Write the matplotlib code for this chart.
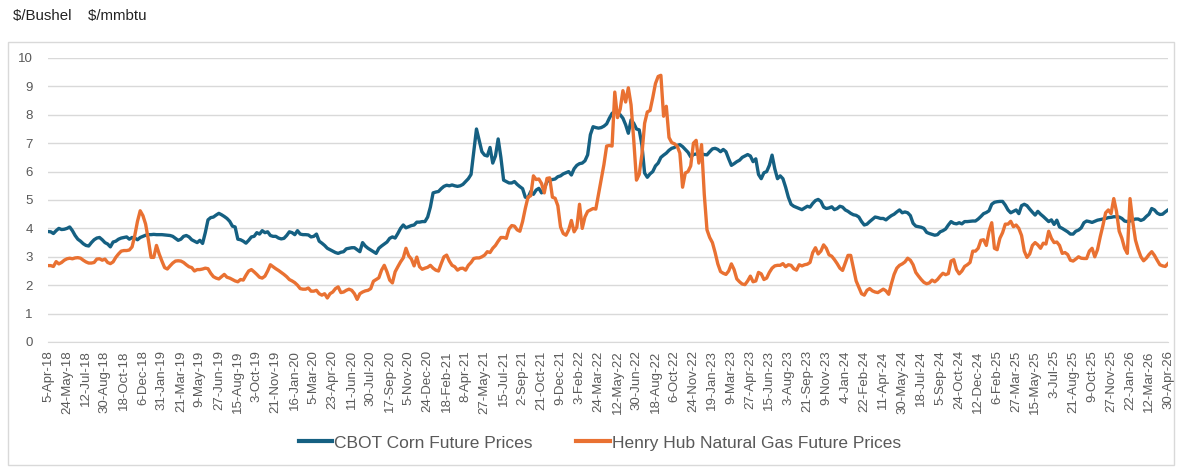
import numpy as np
import matplotlib.pyplot as plt
from matplotlib.patches import Rectangle
from matplotlib.lines import Line2D

# weekly category labels shown on the axis (every 7th week)
tick_labels = [
    "5-Apr-18", "24-May-18", "12-Jul-18", "30-Aug-18", "18-Oct-18", "6-Dec-18",
    "31-Jan-19", "21-Mar-19", "9-May-19", "27-Jun-19", "15-Aug-19", "3-Oct-19",
    "21-Nov-19", "16-Jan-20", "5-Mar-20", "23-Apr-20", "11-Jun-20", "30-Jul-20",
    "17-Sep-20", "5-Nov-20", "24-Dec-20", "18-Feb-21", "8-Apr-21", "27-May-21",
    "15-Jul-21", "2-Sep-21", "21-Oct-21", "9-Dec-21", "3-Feb-22", "24-Mar-22",
    "12-May-22", "30-Jun-22", "18-Aug-22", "6-Oct-22", "24-Nov-22", "19-Jan-23",
    "9-Mar-23", "27-Apr-23", "15-Jun-23", "3-Aug-23", "21-Sep-23", "9-Nov-23",
    "4-Jan-24", "22-Feb-24", "11-Apr-24", "30-May-24", "18-Jul-24", "5-Sep-24",
    "24-Oct-24", "12-Dec-24", "6-Feb-25", "27-Mar-25", "15-May-25", "3-Jul-25",
    "21-Aug-25", "9-Oct-25", "27-Nov-25", "22-Jan-26", "12-Mar-26", "30-Apr-26",
]

# CBOT corn, $/bushel (weekly)
corn = [
    3.89, 3.88, 3.82, 3.92, 4.00, 3.96, 3.97,
    4.00, 4.05, 3.92, 3.75, 3.62, 3.55, 3.46,
    3.40, 3.38, 3.50, 3.60, 3.66, 3.68, 3.60,
    3.50, 3.45, 3.35, 3.52, 3.55, 3.62, 3.66,
    3.68, 3.70, 3.62, 3.68, 3.66, 3.60, 3.68,
    3.72, 3.76, 3.78, 3.78, 3.79, 3.78, 3.78,
    3.78, 3.77, 3.76, 3.75, 3.72, 3.65, 3.58,
    3.62, 3.72, 3.75, 3.70, 3.60, 3.55, 3.50,
    3.58, 3.47, 3.85, 4.30, 4.38, 4.40, 4.47,
    4.53, 4.48, 4.42, 4.35, 4.25, 4.08, 4.05,
    3.62, 3.60, 3.55, 3.48, 3.58, 3.70, 3.72,
    3.85, 3.80, 3.92, 3.85, 3.88, 3.75, 3.72,
    3.72, 3.66, 3.63, 3.65, 3.75, 3.88, 3.85,
    3.78, 3.92, 3.80, 3.78, 3.78, 3.77, 3.70,
    3.72, 3.80, 3.55, 3.48, 3.40, 3.30, 3.25,
    3.20, 3.15, 3.12, 3.16, 3.18, 3.28, 3.30,
    3.32, 3.32, 3.25, 3.18, 3.50, 3.38, 3.30,
    3.24, 3.18, 3.12, 3.30, 3.38, 3.45, 3.52,
    3.65, 3.70, 3.66, 3.82, 4.00, 4.12, 4.02,
    4.06, 4.10, 4.12, 4.22, 4.22, 4.24, 4.24,
    4.40, 4.75, 5.25, 5.28, 5.30, 5.40, 5.48,
    5.52, 5.50, 5.53, 5.50, 5.48, 5.50, 5.55,
    5.65, 5.75, 5.90, 6.70, 7.50, 7.10, 6.70,
    6.58, 6.55, 6.85, 6.30, 6.55, 7.15, 6.50,
    5.70, 5.65, 5.60, 5.60, 5.65, 5.55, 5.47,
    5.40, 5.10, 5.08, 5.30, 5.20, 5.35, 5.41,
    5.25, 5.40, 5.65, 5.70, 5.72, 5.74, 5.82,
    5.85, 5.92, 5.96, 6.00, 5.88, 6.10, 6.22,
    6.28, 6.30, 6.38, 6.59, 7.30, 7.58, 7.55,
    7.53, 7.55, 7.60, 7.68, 7.88, 8.05, 8.12,
    8.10, 8.00, 7.88, 7.65, 7.35, 7.82, 7.70,
    7.50, 7.47, 6.94, 5.95, 5.80, 5.92, 6.00,
    6.20, 6.30, 6.50, 6.58, 6.65, 6.75, 6.82,
    6.85, 6.92, 6.95, 6.88, 6.78, 6.68, 6.52,
    6.60, 6.62, 6.60, 6.62, 6.60, 6.59, 6.70,
    6.80, 6.82, 6.78, 6.70, 6.78, 6.70, 6.45,
    6.22, 6.28, 6.35, 6.40, 6.50, 6.55, 6.60,
    6.55, 6.35, 6.45, 5.90, 5.75, 5.96, 6.00,
    6.22, 6.58, 6.10, 5.75, 5.85, 5.75, 5.45,
    5.10, 4.85, 4.78, 4.74, 4.70, 4.66, 4.72,
    4.78, 4.75, 4.88, 4.98, 5.02, 4.95, 4.75,
    4.70, 4.72, 4.76, 4.66, 4.70, 4.78, 4.75,
    4.65, 4.60, 4.53, 4.48, 4.46, 4.40, 4.24,
    4.12, 4.15, 4.24, 4.32, 4.40, 4.38, 4.35,
    4.35, 4.30, 4.38, 4.45, 4.50, 4.58, 4.65,
    4.55, 4.58, 4.55, 4.45, 4.18, 4.08, 4.06,
    4.04, 4.00, 3.86, 3.82, 3.79, 3.76, 3.78,
    3.88, 3.92, 3.98, 4.12, 4.24, 4.18, 4.16,
    4.20, 4.16, 4.24, 4.24, 4.25, 4.26, 4.26,
    4.33, 4.42, 4.52, 4.56, 4.62, 4.85, 4.92,
    4.94, 4.95, 4.95, 4.82, 4.65, 4.55, 4.60,
    4.65, 4.52, 4.80, 4.85, 4.80, 4.68, 4.57,
    4.47, 4.60, 4.50, 4.42, 4.33, 4.24, 4.30,
    4.14, 4.29, 4.05, 4.00, 3.94, 3.88, 3.80,
    3.80, 3.90, 3.94, 4.02, 4.20, 4.26, 4.24,
    4.21, 4.25, 4.29, 4.31, 4.33, 4.35, 4.38,
    4.39, 4.41, 4.41, 4.40, 4.35, 4.26, 4.24,
    4.26, 4.30, 4.33, 4.33, 4.28, 4.32, 4.42,
    4.50, 4.70, 4.65, 4.54, 4.49, 4.50, 4.58,
    4.65,
]

# Henry Hub natural gas, $/mmbtu (weekly)
gas = [
    2.69, 2.69, 2.66, 2.83, 2.75, 2.80, 2.88,
    2.93, 2.95, 2.93, 2.96, 2.97, 2.95, 2.88,
    2.82, 2.78, 2.78, 2.80, 2.92, 2.93, 2.88,
    2.92, 2.80, 2.76, 2.82, 2.98, 3.10, 3.20,
    3.22, 3.22, 3.24, 3.35, 3.75, 4.25, 4.62,
    4.45, 4.15, 3.60, 2.98, 2.98, 3.40, 3.10,
    2.85, 2.62, 2.57, 2.68, 2.78, 2.85, 2.86,
    2.85, 2.80, 2.72, 2.65, 2.62, 2.50, 2.55,
    2.55, 2.57, 2.60, 2.58, 2.42, 2.30, 2.25,
    2.22, 2.30, 2.38, 2.28, 2.25, 2.20, 2.15,
    2.12, 2.20, 2.18, 2.35, 2.50, 2.55, 2.47,
    2.38, 2.28, 2.25, 2.32, 2.50, 2.72, 2.65,
    2.58, 2.52, 2.45, 2.38, 2.30, 2.20, 2.15,
    2.09, 2.00, 1.88, 1.86, 1.86, 1.90, 1.79,
    1.79, 1.82, 1.70, 1.65, 1.70, 1.55, 1.70,
    1.76, 1.88, 1.94, 1.74, 1.76, 1.82, 1.86,
    1.82, 1.70, 1.50, 1.70, 1.76, 1.80, 1.82,
    1.88, 2.14, 2.20, 2.26, 2.53, 2.70, 2.47,
    2.18, 2.08, 2.47, 2.65, 2.82, 2.96, 3.30,
    3.04, 2.92, 2.68, 2.99, 2.65, 2.56, 2.60,
    2.63, 2.70, 2.60, 2.53, 2.50, 2.76, 3.00,
    3.06, 2.85, 2.70, 2.65, 2.53, 2.59, 2.60,
    2.53, 2.70, 2.80, 2.94, 2.96, 2.96, 3.00,
    3.06, 3.18, 3.15, 3.30, 3.40, 3.55, 3.68,
    3.68, 3.65, 3.98, 4.10, 4.08, 3.95, 3.90,
    4.24, 4.70, 5.10, 5.15, 5.85, 5.72, 5.74,
    5.58, 5.25, 5.76, 5.78, 5.10, 5.06, 4.80,
    4.05, 3.82, 3.76, 3.95, 4.28, 3.88, 4.04,
    4.85, 4.00, 4.40, 4.60, 4.65, 4.70, 4.68,
    5.20, 5.70, 6.25, 6.90, 6.92, 6.90, 8.80,
    7.90, 8.20, 8.85, 8.45, 8.95, 8.35, 7.10,
    5.70, 5.90, 6.60, 7.70, 8.10, 8.15, 8.60,
    9.10, 9.35, 9.39, 7.95, 8.30, 7.20, 7.02,
    6.98, 6.90, 6.65, 5.45, 5.95, 6.00, 6.20,
    7.00, 7.10, 6.30, 6.95, 5.20, 3.95, 3.68,
    3.50, 3.15, 2.75, 2.48, 2.42, 2.38, 2.50,
    2.75, 2.55, 2.22, 2.12, 2.04, 2.02, 2.15,
    2.32, 2.12, 2.15, 2.45, 2.40, 2.20, 2.25,
    2.45, 2.60, 2.68, 2.70, 2.70, 2.76, 2.65,
    2.72, 2.70, 2.58, 2.53, 2.72, 2.68, 2.72,
    2.74, 2.80, 3.15, 3.32, 3.10, 3.20, 3.42,
    3.30, 3.07, 3.02, 2.90, 2.76, 2.60, 2.52,
    2.78, 3.05, 3.05, 2.60, 2.15, 1.92, 1.70,
    1.65, 1.82, 1.88, 1.80, 1.76, 1.74, 1.80,
    1.86, 1.80, 1.68, 2.05, 2.38, 2.60, 2.70,
    2.75, 2.82, 2.95, 2.88, 2.72, 2.45, 2.32,
    2.20, 2.10, 2.05, 2.08, 2.18, 2.12, 2.20,
    2.32, 2.42, 2.37, 2.41, 2.85, 2.90, 2.55,
    2.40, 2.50, 2.66, 2.72, 2.80, 3.20, 3.20,
    3.30, 3.58, 3.60, 3.40, 3.90, 4.20, 3.30,
    3.25, 3.65, 3.85, 4.15, 4.15, 4.25, 4.06,
    4.12, 4.00, 3.75, 3.20, 2.98, 3.10, 3.40,
    3.50, 3.42, 3.30, 3.48, 3.45, 3.90, 3.65,
    3.50, 3.52, 3.40, 3.12, 3.15, 3.08, 2.88,
    2.85, 2.92, 3.00, 2.95, 2.94, 2.94, 3.20,
    3.30, 3.00, 3.25, 3.70, 4.10, 4.55, 4.65,
    4.52, 5.05, 4.60, 3.90, 3.65, 3.30, 3.12,
    5.05, 4.24, 3.59, 3.26, 3.00, 2.86, 2.95,
    3.08, 3.18, 3.05, 2.88, 2.72, 2.68, 2.66,
    2.76,
]

blue = '#156082'
orange = '#E97132'
grey_txt = '#595959'
grid_col = '#D9D9D9'

plt.rcParams['font.family'] = ['Liberation Sans', 'DejaVu Sans']

fig = plt.figure(figsize=(11.78, 4.67), dpi=100)

# outer chart border
fig.patches.append(Rectangle((8 / 1178, 2 / 467), 1166 / 1178, 423 / 467,
                             transform=fig.transFigure, fill=False,
                             edgecolor=grid_col, linewidth=1))

ax = fig.add_axes([48 / 1178, 1 - 342 / 467, 1120 / 1178, 284 / 467])

x = np.arange(len(corn))
ax.plot(x, corn, color=blue, lw=2.4, solid_joinstyle='round')
ax.plot(x, gas, color=orange, lw=2.4, solid_joinstyle='round')

ax.set_xlim(0, len(corn) - 1)
ax.set_ylim(0, 10)
ax.set_yticks(range(0, 11))
ax.set_xticks(np.arange(0, len(corn), 7))
ax.set_xticklabels(tick_labels, rotation=90)
ax.tick_params(axis='both', length=0, labelsize=9.5, labelcolor=grey_txt)
ax.tick_params(axis='y', pad=11)
ax.tick_params(axis='x', pad=6)

ax.grid(axis='y', color=grid_col, lw=1)
ax.set_axisbelow(True)
for side in ['top', 'right', 'left']:
    ax.spines[side].set_visible(False)
ax.spines['bottom'].set_color(grid_col)

fig.text(13 / 1178, 1 - 16 / 467, r'\$/Bushel    \$/mmbtu', fontsize=10.8,
         color='#222222', va='center', ha='left')

handles = [Line2D([], [], color=blue, lw=3),
           Line2D([], [], color=orange, lw=3)]
fig.legend(handles, ['CBOT Corn Future Prices', 'Henry Hub Natural Gas Future Prices'],
           loc='center', bbox_to_anchor=(600 / 1178, 1 - 443 / 467), ncol=2,
           frameon=False, handlelength=1.95, handletextpad=0.12, columnspacing=2.5,
           prop={'size': 12.5}, labelcolor=grey_txt)

fig.savefig('out.png', dpi=100)
